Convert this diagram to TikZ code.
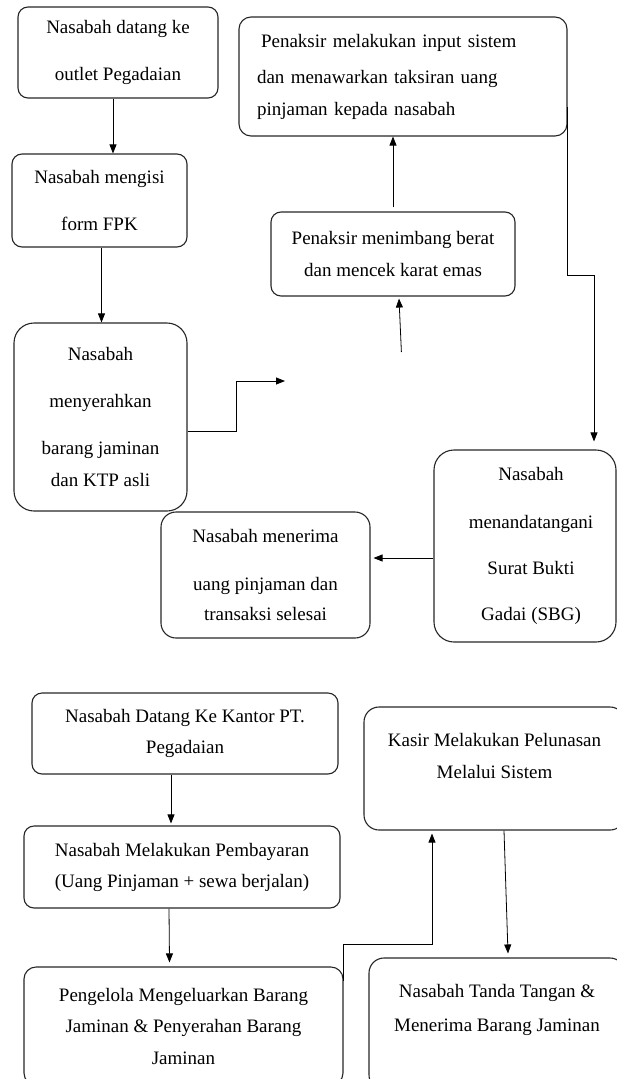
\documentclass[tikz,border=0pt]{standalone}
\usepackage{fontspec}
\setmainfont{Liberation Serif}
\usetikzlibrary{arrows.meta,positioning,calc}

\begin{document}
\begin{tikzpicture}[
	x=1pt, y=-1pt, % pixel grid of the page
	box/.style={draw=black!85, line width=1.1pt, rounded corners=10pt, align=center, inner sep=0pt,
		font=\fontsize{19}{22}\selectfont},
	arr/.style={draw=black, line width=0.8pt, -{Triangle[length=9pt,width=7pt]}}]
	\useasboundingbox (0,0) rectangle (617,1079);
	\clip (0,0) rectangle (617,1079);
	% gadai
	\path 	(118,52.5)	node (datang)   [box, minimum width=200pt, minimum height=91pt] {Nasabah datang ke\\[25pt]outlet Pegadaian}
	        (99.5,200.5) node (isi)     [box, minimum width=175pt, minimum height=93pt] {Nasabah mengisi\\[25pt]form FPK}
	        (100.5,417) node (serah)    [box, rounded corners=20pt, minimum width=173pt, minimum height=188pt] {Nasabah\\[25pt]menyerahkan\\[25pt]barang jaminan\\[10pt]dan KTP asli}
	        (393,254)   node (timbang)  [box, minimum width=244pt, minimum height=84pt] {Penaksir menimbang berat\\[10pt]dan mencek karat emas}
	        (403,76.5)  node (input)    [box, rounded corners=12pt, minimum width=328pt, minimum height=119pt, text width=292pt, align=left] {\hspace{4pt}Penaksir melakukan input sistem\\[14pt]dan menawarkan taksiran uang\\[10pt]pinjaman kepada nasabah}
	        (525,546)   node (sbg)      [box, rounded corners=20pt, minimum width=182pt, minimum height=192pt] {\hspace{12pt}Nasabah\\[26pt]\hspace{12pt}menandatangani\\[24pt]\hspace{12pt}Surat Bukti\\[24pt]\hspace{12pt}Gadai (SBG)}
	        (265.5,575) node (terima)   [box, rounded corners=15pt, minimum width=209pt, minimum height=126pt] {Nasabah menerima\\[26pt]uang pinjaman dan\\[8pt]transaksi selesai};
	\path	(285,381)   coordinate (kosong)
	        (401.4,352) coordinate (bawah);
	\draw [arr] ([xshift=-5pt]datang.south) -- ([xshift=-5pt]datang.south |- isi.north);
	\draw [arr] ([xshift=2pt]isi.south) -- ([xshift=2pt]isi.south |- serah.north);
	\draw [arr] ([yshift=-14pt]serah.east) -- ++(49,0) |- (kosong);
	\draw [arr] (bawah) -- ([xshift=6pt,yshift=-2pt]timbang.south);
	\draw [arr] ([yshift=4pt]timbang.north) -- (timbang.north |- input.south);
	\draw [arr] ([yshift=-30pt]input.east) -- ++(0,168.5) -| ([xshift=69pt,yshift=8pt]sbg.north);
	\draw [arr] ([yshift=-12pt]sbg.west) -- ([yshift=-12pt,xshift=3pt]sbg.west -| terima.east);
	% pelunasan
	\path 	(185,733.5) node (kantor)   [box, minimum width=306pt, minimum height=81pt] {Nasabah Datang Ke Kantor PT.\\[9pt]Pegadaian}
	        (182,867)   node (bayar)    [box, minimum width=316pt, minimum height=82pt] {Nasabah Melakukan Pembayaran\\[9pt](Uang Pinjaman + sewa berjalan)}
	        (183.5,1026) node (keluar)  [box, rounded corners=12pt, minimum width=319pt, minimum height=118pt] {Pengelola Mengeluarkan Barang\\[9pt]Jaminan \& Penyerahan Barang\\[10pt]Jaminan}
	        (494.5,768.5) node (kasir)  [box, rounded corners=15pt, minimum width=261pt, minimum height=123pt, text depth=25pt] {Kasir Melakukan Pelunasan\\[10pt]Melalui Sistem}
	        (497,1024)  node (ttd)      [box, rounded corners=15pt, minimum width=256pt, minimum height=132pt, text depth=32pt] {Nasabah Tanda Tangan \&\\[12pt]Menerima Barang Jaminan};
	\draw [arr] ([xshift=-14pt]kantor.south) -- ([xshift=-14pt,yshift=2pt]kantor.south |- bayar.north);
	\draw [arr] ([xshift=-13pt]bayar.south) -- ([xshift=-14pt,yshift=4pt]keluar.north);
	\draw [arr] ([yshift=-15pt]keluar.north east) -- ++(0,-37) -| ([xshift=-62.5pt,yshift=-3pt]kasir.south);
	\draw [arr] ([xshift=9.5pt]kasir.south) -- ([xshift=11pt,yshift=4pt]ttd.north);
\end{tikzpicture}
\end{document}
